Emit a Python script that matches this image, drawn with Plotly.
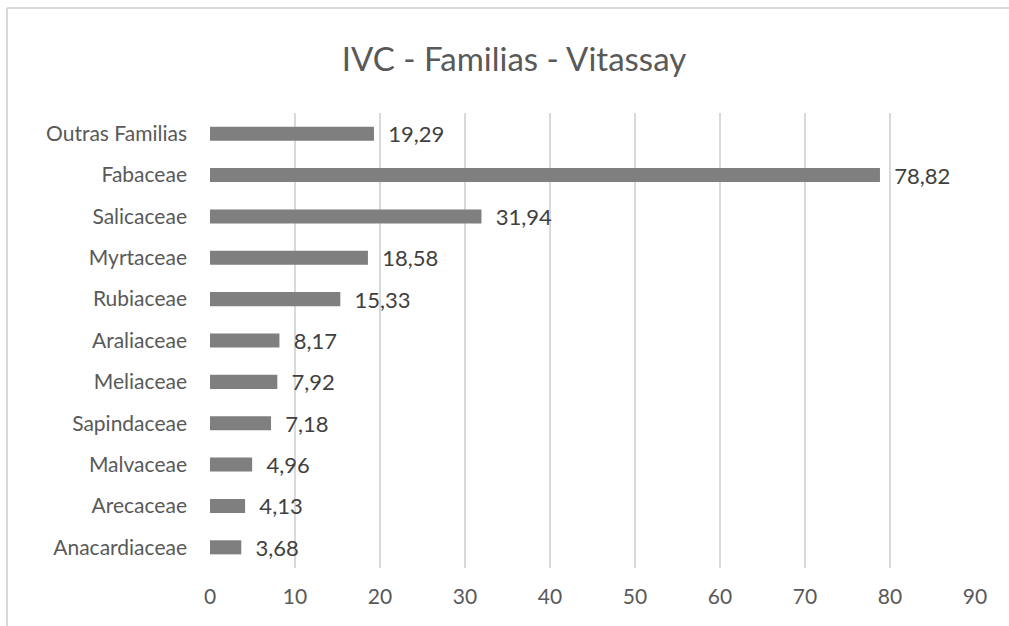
import plotly.graph_objects as go

categories = ["Anacardiaceae", "Arecaceae", "Malvaceae", "Sapindaceae", "Meliaceae",
              "Araliaceae", "Rubiaceae", "Myrtaceae", "Salicaceae", "Fabaceae", "Outras Familias"]
values = [3.68, 4.13, 4.96, 7.18, 7.92, 8.17, 15.33, 18.58, 31.94, 78.82, 19.29]
labels = ["\u00a0\u00a0" + f"{v:.2f}".replace(".", ",") for v in values]
tick_vals = list(range(0, 100, 10))

W, H = 1009, 626
ml, mr, mt, mb = 210, 34, 113, 58
pw, ph = W - ml - mr, H - mt - mb

FONT = "Lato"

fig = go.Figure(go.Bar(
    x=values, y=categories, orientation="h",
    marker=dict(color="#7f7f7f", line=dict(width=0)),
    text=labels, textposition="outside", cliponaxis=False, constraintext="none",
    textfont=dict(family=FONT, size=22, color="#404040"),
    width=0.34, hoverinfo="skip",
))

def px2x(px):
    return (px - ml) / pw

def px2y(py):
    return 1 - (py - mt) / ph

# chart frame: only top and left edges are visible in the picture
fig.add_shape(type="line", xref="paper", yref="paper",
              x0=px2x(7), x1=px2x(W + 5), y0=px2y(8), y1=px2y(8),
              line=dict(color="#d9d9d9", width=2), layer="below")
fig.add_shape(type="line", xref="paper", yref="paper",
              x0=px2x(7), x1=px2x(7), y0=px2y(8), y1=px2y(H + 5),
              line=dict(color="#d9d9d9", width=2), layer="below")

fig.update_layout(
    width=W, height=H,
    margin=dict(l=ml, r=mr, t=mt, b=mb, autoexpand=False),
    paper_bgcolor="white", plot_bgcolor="white",
    showlegend=False,
    title=dict(text="IVC - Familias - Vitassay", x=514 / W, xref="container", xanchor="center",
               y=1 - 59 / H, yref="container", yanchor="middle",
               font=dict(family=FONT, size=33, color="#595959")),
    xaxis=dict(range=[0, 90], tickvals=tick_vals, showgrid=True, gridcolor="#d9d9d9",
               gridwidth=2, zeroline=False, showline=False, ticks="",
               tickfont=dict(family=FONT, size=21, color="#595959"),
               ticklabelstandoff=14),
    yaxis=dict(categoryorder="array", categoryarray=categories, showgrid=False,
               zeroline=False, showline=False, ticks="",
               tickfont=dict(family=FONT, size=21, color="#595959"),
               ticklabelstandoff=22),
    bargap=0.66,
)

fig.write_html("out.html", config={"displayModeBar": False},
               post_script="document.body.style.margin='0';")
